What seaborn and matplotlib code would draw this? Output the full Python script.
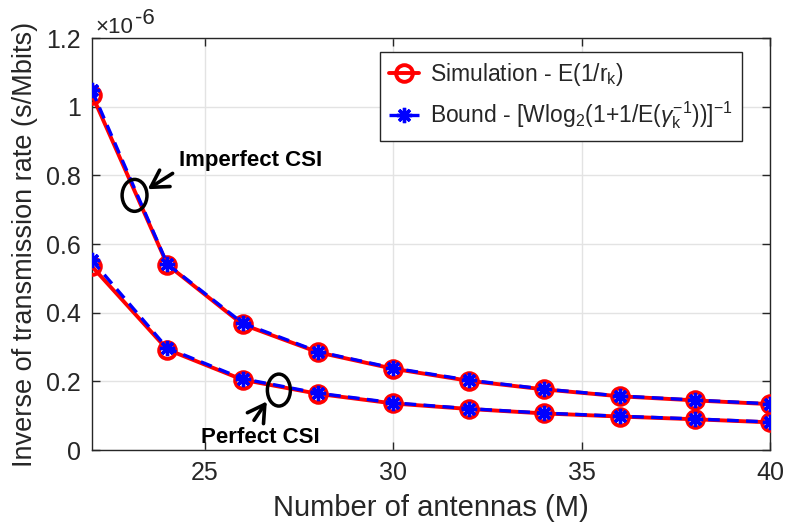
import numpy as np
import pandas as pd
import matplotlib
matplotlib.use("Agg")
import matplotlib.pyplot as plt
import seaborn as sns
from matplotlib.patches import Ellipse
from matplotlib.ticker import FuncFormatter, FixedLocator

# ---- data ----
antennas = [22, 24, 26, 28, 30, 32, 34, 36, 38, 40]
imperfect_sim = [1.035e-6, 0.540e-6, 0.366e-6, 0.285e-6, 0.237e-6, 0.202e-6, 0.177e-6, 0.157e-6, 0.145e-6, 0.134e-6]
imperfect_bound = [1.048e-6, 0.542e-6, 0.370e-6, 0.287e-6, 0.239e-6, 0.204e-6, 0.178e-6, 0.158e-6, 0.146e-6, 0.135e-6]
perfect_sim = [0.535e-6, 0.293e-6, 0.205e-6, 0.164e-6, 0.136e-6, 0.120e-6, 0.107e-6, 0.098e-6, 0.090e-6, 0.081e-6]
perfect_bound = [0.553e-6, 0.297e-6, 0.208e-6, 0.166e-6, 0.138e-6, 0.121e-6, 0.108e-6, 0.099e-6, 0.091e-6, 0.082e-6]
xticks = [25, 30, 35, 40]
yticks = [0, 0.2e-6, 0.4e-6, 0.6e-6, 0.8e-6, 1.0e-6, 1.2e-6]

sns.set_theme(style="ticks")
plt.rcParams["font.family"] = ["Liberation Sans", "DejaVu Sans"]
plt.rcParams["mathtext.fontset"] = "custom"
plt.rcParams["mathtext.rm"] = "Liberation Sans"
plt.rcParams["mathtext.it"] = "Liberation Sans:italic"
plt.rcParams["mathtext.bf"] = "Liberation Sans:bold"

fig = plt.figure(figsize=(7.86, 5.29), dpi=100)
ax = fig.add_axes([0.117, 0.149, 0.863, 0.779])

red = "#ff0000"
blue = "#0000ff"
ast = (8, 2, 0)

sim_label = r"Simulation - E(1/r$_\mathregular{k}$)"
bound_label = r"Bound - [Wlog$_\mathregular{2}$(1+1/E($\gamma_\mathregular{k}^\mathregular{-1}$))]$^\mathregular{-1}$"

for ys, lab in [(imperfect_sim, sim_label), (perfect_sim, None)]:
    sns.lineplot(x=antennas, y=ys, ax=ax, color=red, linewidth=2.8, marker="o",
                 markersize=12, markerfacecolor="none", markeredgecolor=red,
                 markeredgewidth=2.8, label=lab, legend=False, zorder=3)
for ys, lab in [(imperfect_bound, bound_label), (perfect_bound, None)]:
    sns.lineplot(x=antennas, y=ys, ax=ax, color=blue, linewidth=2.4, marker=ast,
                 markersize=11, markeredgecolor=blue, markeredgewidth=2.4,
                 linestyle=(0, (3.5, 2.2)), label=lab, legend=False, zorder=4)

ax.set_xlim(22, 40)
ax.set_ylim(0, 1.2e-6)
ax.xaxis.set_major_locator(FixedLocator(xticks))
ax.yaxis.set_major_locator(FixedLocator(yticks))
ax.yaxis.set_major_formatter(FuncFormatter(lambda v, p: f"{v/1e-6:g}"))
ax.grid(True, color="#e3e3e3", linewidth=1.0, zorder=0)
ax.set_axisbelow(True)
for s in ax.spines.values():
    s.set_visible(True)
    s.set_color("#262626")
    s.set_linewidth(1.0)
ax.tick_params(direction="in", length=6, width=1.0, colors="#262626",
               top=True, right=True, labelsize=18, pad=8)
for t in ax.get_xticklabels() + ax.get_yticklabels():
    t.set_color("#262626")

ax.set_xlabel("Number of antennas (M)", fontsize=21, color="#262626", labelpad=6)
ax.set_ylabel("Inverse of transmission rate (s/Mbits)", fontsize=19.5, color="#262626", labelpad=6)

# exponent label (MATLAB style)
ax.annotate("\u00d710", xy=(0, 1), xycoords="axes fraction", xytext=(3, 5),
            textcoords="offset pixels", fontsize=16, color="#262626",
            ha="left", va="baseline")
ax.annotate("-6", xy=(0, 1), xycoords="axes fraction", xytext=(43, 14),
            textcoords="offset pixels", fontsize=16, color="#262626",
            ha="left", va="baseline")

leg = ax.legend(loc="upper right", fontsize=16.5, frameon=True, fancybox=False,
                edgecolor="#262626", framealpha=1, borderpad=0.4,
                handlelength=1.3, handletextpad=0.5, labelspacing=0.5,
                borderaxespad=0, bbox_to_anchor=(0.959, 0.966))
leg.get_frame().set_linewidth(1.0)

# annotations
arrow_kw = dict(arrowstyle="->,head_length=0.6,head_width=0.35", color="black",
                lw=2.6, mutation_scale=20, shrinkA=0, shrinkB=0)
ax.add_patch(Ellipse((23.13, 0.742e-6), 0.66, 0.093e-6, fill=False,
                     edgecolor="black", linewidth=2.5, zorder=5))
ax.annotate("", xy=(23.48, 0.760e-6), xytext=(24.14, 0.806e-6),
            arrowprops=arrow_kw, zorder=5)
ax.text(24.32, 0.844e-6, "Imperfect CSI", fontsize=16, fontweight="bold",
        ha="left", va="center", color="black")

ax.add_patch(Ellipse((26.96, 0.175e-6), 0.61, 0.093e-6, fill=False,
                     edgecolor="black", linewidth=2.5, zorder=5))
ax.annotate("", xy=(26.64, 0.142e-6), xytext=(26.30, 0.087e-6),
            arrowprops=arrow_kw, zorder=5)
ax.text(24.90, 0.038e-6, "Perfect CSI", fontsize=16, fontweight="bold",
        ha="left", va="center", color="black")

fig.savefig("out.png", dpi=100)
